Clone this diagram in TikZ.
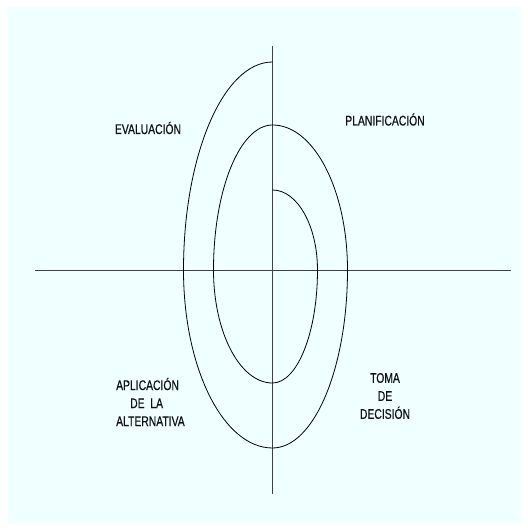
\documentclass[tikz,border=0pt]{standalone}
\usepackage{fontspec}
\setmainfont{Liberation Sans}[FakeStretch=0.74,FakeBold=0.5]
\definecolor{bgcyan}{HTML}{F0FFFF}
\definecolor{inkgray}{HTML}{111111}
\begin{document}
\begin{tikzpicture}[x=1pt,y=1pt,
  axisline/.style={line width=0.8pt,draw=black!75},
  spiralline/.style={line width=0.8pt,draw=black},
  label/.style={inner sep=0pt,text=inkgray,font=\fontsize{14}{18}\selectfont}]
\useasboundingbox (0,0) rectangle (528,531);
\fill[bgcyan] (8,7) rectangle (521,524);
% axes
\coordinate (vtop) at (272.5,485);
\coordinate (vbot) at (272.5,37);
\coordinate (hl) at (35,261);
\coordinate (hr) at (511,261);
\draw[axisline] (vtop) -- (vbot);
\draw[axisline] (hl) -- (hr);
% spiral
\coordinate (s0) at (272.5,341);
\draw[spiralline] (s0)
  arc[start angle=90,end angle=0,x radius=45,y radius=80]
  arc[start angle=0,end angle=-90,x radius=45,y radius=113]
  arc[start angle=270,end angle=180,x radius=59,y radius=113]
  arc[start angle=180,end angle=90,x radius=59,y radius=145]
  arc[start angle=90,end angle=0,x radius=75,y radius=145]
  arc[start angle=0,end angle=-90,x radius=75,y radius=178]
  arc[start angle=270,end angle=180,x radius=89,y radius=178]
  arc[start angle=180,end angle=90,x radius=89,y radius=208];
% labels
\node[label] (eval) at (148,403) {EVALUACIÓN};
\node[label] (plan) at (385,411.5) {PLANIFICACIÓN};
\node[label,anchor=west,align=left] (apli) at (116,129) {APLICACIÓN\\\hspace*{14pt}DE\ \ LA\\ALTERNATIVA};
\node[label,align=center] (toma) at (385,135) {TOMA\\DE\\DECISIÓN};
\end{tikzpicture}
\end{document}
